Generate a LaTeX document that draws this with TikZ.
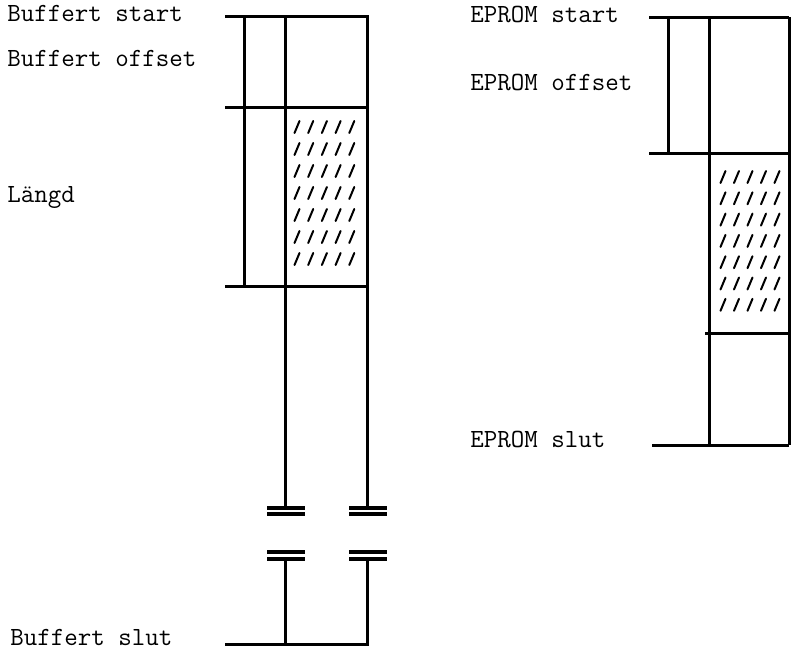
\documentclass[tikz,border=0pt]{standalone}
\usepackage{fontspec}
\begin{document}
\begin{tikzpicture}[x=0.5pt, y=-0.5pt,
    txt/.style={anchor=base west, inner sep=0pt, font=\ttfamily\fontsize{13.1}{14}\selectfont},
    bar/.style={line width=1.5pt},
    brk/.style={line width=1.9pt},
    slash/.style={line width=1pt, line cap=round}]
    \useasboundingbox (0,0) rectangle (792,650);

    \node [txt] (bstart) at (7,21) {Buffert start};
    \node [txt] (bofst) at (7,66) {Buffert offset};
    \node [txt] (blen) at (7,202) {Längd};
    \node [txt] (bslut) at (10,645) {Buffert slut};
    \node [txt] (estart) at (470,22) {EPROM start};
    \node [txt] (eofst) at (470,90) {EPROM offset};
    \node [txt] (eslut) at (470,447) {EPROM slut};

    \coordinate (bL) at (225,0);
    \coordinate (bB) at (244,0);
    \coordinate (bI) at (285,0);
    \coordinate (bR) at (367,0);
    \coordinate (bE) at (369,0);
    \coordinate (bTop) at (0,16);
    \coordinate (bOfs) at (0,107);
    \coordinate (bLen) at (0,286);
    \coordinate (bCut) at (0,508);
    \coordinate (bRes) at (0,559);
    \coordinate (bEnd) at (0,644);

    \coordinate (eL) at (649,0);
    \coordinate (eB) at (668,0);
    \coordinate (eI) at (709,0);
    \coordinate (eR) at (789,0);
    \coordinate (eTop) at (0,17);
    \coordinate (eOfs) at (0,153);
    \coordinate (eLen) at (0,333);
    \coordinate (eEnd) at (0,445);

    \draw [bar] (bL |- bTop) -- (bE |- bTop);
    \draw [bar] (bL |- bOfs) -- (bE |- bOfs);
    \draw [bar] (bL |- bLen) -- (bE |- bLen);
    \draw [bar] (bL |- bEnd) -- (bE |- bEnd);
    \draw [bar] (bB |- bTop) -- (bB |- bLen);
    \draw [bar] (bI |- bTop) -- (bI |- bCut);
    \draw [bar] (bR |- bTop) -- (bR |- bCut);
    \draw [bar] (bI |- bRes) -- (bI |- bEnd);
    \draw [bar] (bR |- bRes) -- (bR |- bEnd);
    \foreach \c in {bI,bR} {
        \draw [brk] (\c |- bCut) ++(-18,0) -- ++(38,0) ++(-38,6) -- ++(38,0);
        \draw [brk] (\c |- bRes) ++(-18,-7) -- ++(38,0) ++(-38,7) -- ++(38,0);
    }
    \foreach \i in {0,...,6}
        \foreach \j in {0,...,4}
            \draw [slash] (297+13.7*\j-2.5, 127+22*\i+6) -- ++(5,-12);

    \draw [bar] (eL |- eTop) -- (eR |- eTop);
    \draw [bar] (eL |- eOfs) -- (eR |- eOfs);
    \draw [bar] (705,333) -- (eR |- eLen);
    \draw [bar] (652,445) -- (eR |- eEnd);
    \draw [bar] (eB |- eTop) -- (eB |- eOfs);
    \draw [bar] (eI |- eTop) -- (eI |- eEnd);
    \draw [bar] (eR |- eTop) -- (eR |- eEnd);
    \foreach \i in {0,...,6}
        \foreach \j in {0,...,4}
            \draw [slash] (723+13.5*\j-2.5, 177+21.3*\i+6) -- ++(5,-12);
\end{tikzpicture}
\end{document}
